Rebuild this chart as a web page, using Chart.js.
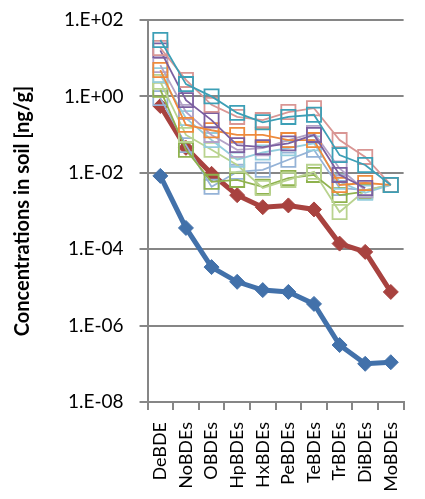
<!DOCTYPE html>
<html>
<head>
<meta charset="utf-8">
<script src="https://cdn.jsdelivr.net/npm/chart.js@4/dist/chart.umd.min.js"></script>
<style>
  html, body { margin: 0; padding: 0; background: #fff; }
  canvas { display: block; }
</style>
</head>
<body>
<canvas id="soilChart" width="425" height="499"></canvas>
<script>
const categories = ['DeBDE', 'NoBDEs', 'OBDEs', 'HpBDEs', 'HxBDEs', 'PeBDEs', 'TeBDEs', 'TrBDEs', 'DiBDEs', 'MoBDEs'];
const yTickValues = [1e-8, 1e-6, 1e-4, 1e-2, 1e0, 1e2];

// bold lines with diamonds
const modelLow = [8.3e-3, 3.6e-4, 3.4e-5, 1.4e-5, 8.5e-6, 7.6e-6, 3.7e-6, 3.1e-7, 1.0e-7, 1.1e-7];
const modelHigh = [0.56, 0.045, 9.4e-3, 2.6e-3, 1.26e-3, 1.4e-3, 1.1e-3, 1.4e-4, 8.5e-5, 7.6e-6];

// thin lines with open squares
const soilTeal = [30, 2.1, 1.0, 0.37, 0.21, 0.29, 0.33, 0.029, 0.016, 0.0048];
const soilPink = [18.5, 2.7, 0.6, 0.29, 0.24, 0.39, 0.49, 0.072, 0.026, 0.0048];
const soilPurple = [16, 0.8, 0.24, 0.053, 0.047, 0.059, 0.098, 0.0088, 0.004, null];
const soilOrange = [4.9, 0.18, 0.13, 0.098, 0.098, 0.072, 0.072, 0.0048, 0.0054, 0.0048];
const soilLilac = [6.6, 0.39, 0.098, 0.04, 0.044, 0.072, 0.11, 0.013, 0.0035, null];
const soilSky = [3.6, 0.27, 0.072, 0.022, 0.034, 0.044, 0.059, 0.0058, 0.003, 0.0048];
const soilLime = [2.4, 0.098, 0.04, 0.016, 0.004, 0.0065, 0.0106, 0.00094, 0.0035, 0.0048];
const soilGreen = [1.5, 0.04, 0.0058, 0.0065, 0.0043, 0.0073, 0.0088, 0.0026, 0.0032, null];
const soilLavender = [0.9, 0.053, 0.0043, 0.0106, 0.012, 0.022, 0.04, 0.004, 0.0035, 0.0048];

const gridGray = '#868686';
const fontName = 'Lato, "Open Sans", sans-serif';

function soilLine(data, color) {
  return {
    data: data,
    borderColor: color,
    borderWidth: 1.8,
    pointStyle: 'rect',
    pointRadius: 10,
    pointBorderWidth: 1.8,
    pointBorderColor: color,
    pointBackgroundColor: 'rgba(0,0,0,0)',
    tension: 0,
    spanGaps: false,
  };
}

function modelLine(data, color) {
  return {
    data: data,
    borderColor: color,
    borderWidth: 5,
    pointStyle: 'rectRot',
    pointRadius: 7.5,
    pointBorderWidth: 1,
    pointBorderColor: color,
    pointBackgroundColor: color,
    tension: 0,
  };
}

const datasets = [
  soilLine(soilTeal, '#3C9FB6'),
  soilLine(soilPink, '#D99694'),
  soilLine(soilPurple, '#7B5FA0'),
  soilLine(soilOrange, '#EE8A3C'),
  soilLine(soilLilac, '#B3A2C7'),
  soilLine(soilSky, '#93CDDD'),
  soilLine(soilLime, '#B9D38F'),
  soilLine(soilGreen, '#8FB24E'),
  soilLine(soilLavender, '#95B3D7'),
  modelLine(modelHigh, '#A8423F'),
  modelLine(modelLow, '#4271AA'),
];

function sciLabel(v) {
  const e = Math.round(Math.log10(v));
  const sign = e < 0 ? '-' : '+';
  return '1.E' + sign + String(Math.abs(e)).padStart(2, '0');
}

new Chart(document.getElementById('soilChart'), {
  type: 'line',
  data: { labels: categories, datasets: datasets },
  options: {
    responsive: false,
    animation: false,
    devicePixelRatio: 1,
    layout: { padding: { top: 0, right: 1, bottom: 0, left: 9 } },
    plugins: {
      legend: { display: false },
      tooltip: { enabled: false },
    },
    scales: {
      x: {
        type: 'category',
        offset: true,
        afterFit: function (scale) {
          // axis band below the plot is 97px in the reference
          scale.height = 97;
        },
        grid: {
          offset: true,
          drawOnChartArea: false,
          tickLength: 8,
          color: gridGray,
          lineWidth: 2,
        },
        border: { color: gridGray, width: 2 },
        ticks: {
          minRotation: 90,
          maxRotation: 90,
          padding: 12,
          color: '#000',
          font: { family: fontName, size: 18 },
        },
      },
      y: {
        type: 'logarithmic',
        min: 1e-8,
        max: 1e2,
        afterBuildTicks: function (scale) {
          scale.ticks = yTickValues.map(function (v) { return { value: v }; });
        },
        afterFit: function (scale) {
          // top gridline sits 20px below the canvas edge
          scale.paddingTop = 20;
        },
        grid: { color: gridGray, lineWidth: 2, tickLength: 8 },
        border: { color: gridGray, width: 2 },
        ticks: {
          padding: 16,
          color: '#000',
          font: { family: fontName, size: 19 },
          callback: function (v) { return sciLabel(v); },
        },
        title: {
          display: true,
          text: 'Concentrations in soil [ng/g]',
          color: '#000',
          padding: { top: 2, bottom: 13 },
          font: { family: fontName, size: 20, weight: 'bold' },
        },
      },
    },
  },
});
</script>
</body>
</html>
